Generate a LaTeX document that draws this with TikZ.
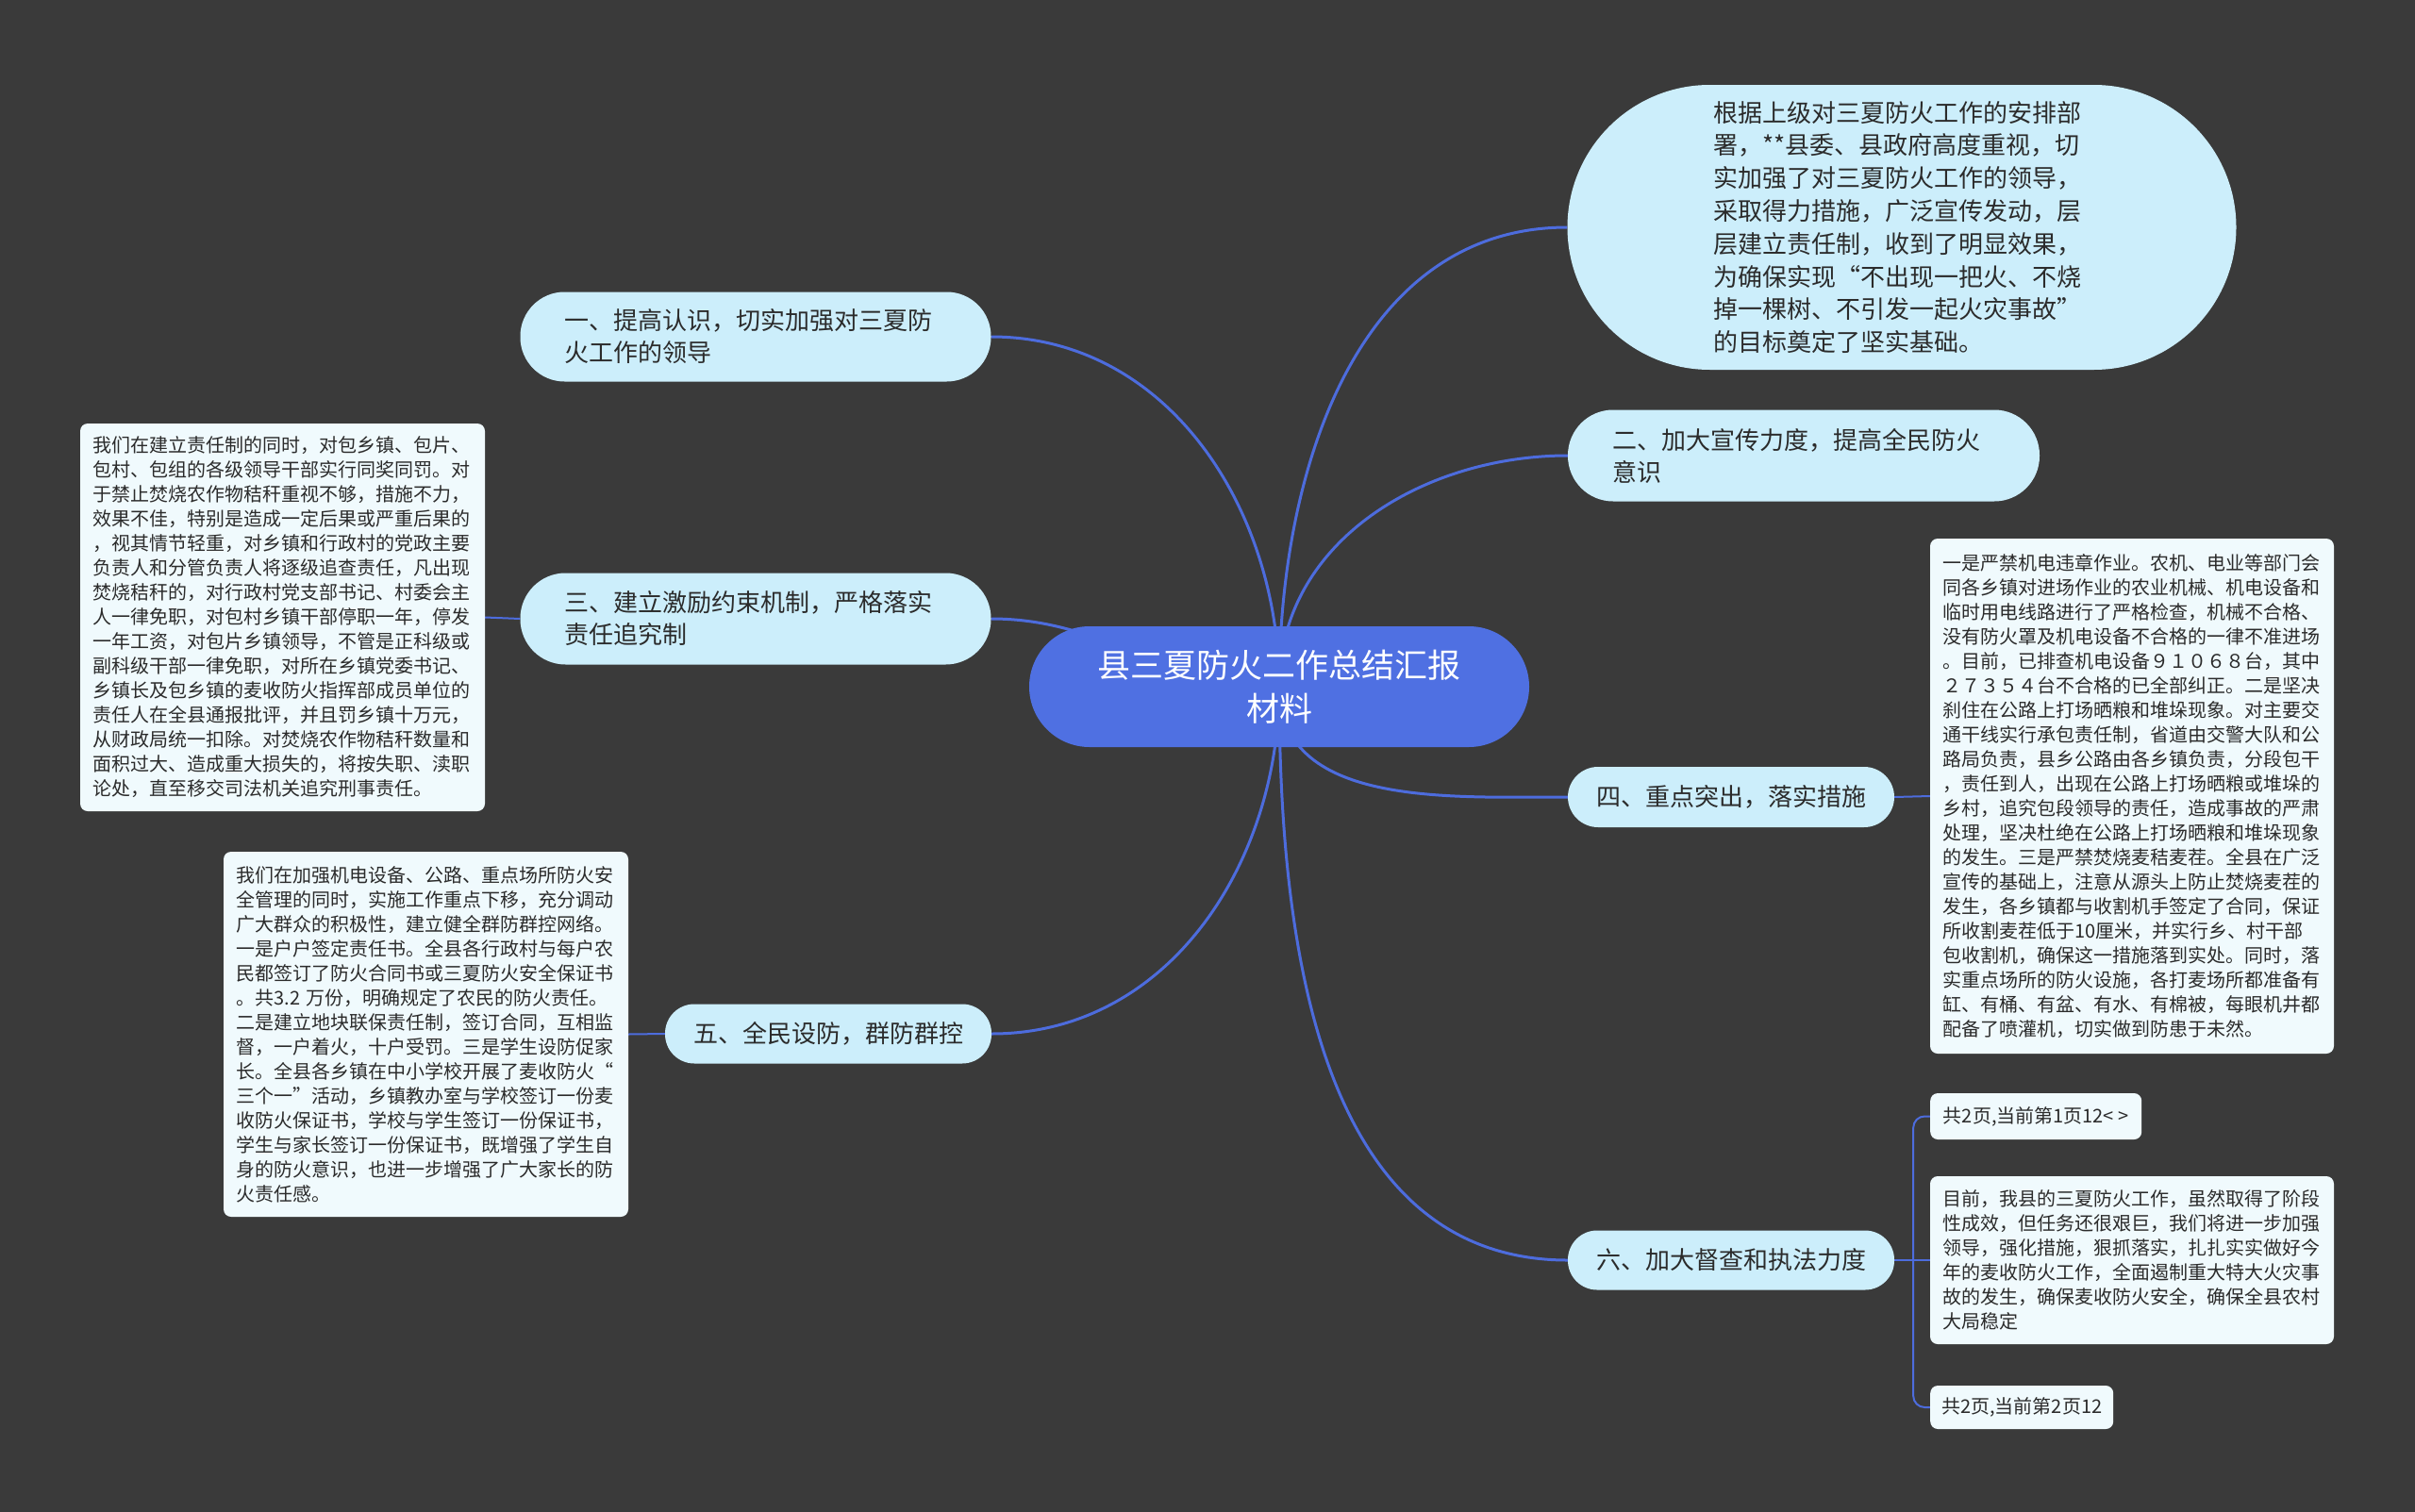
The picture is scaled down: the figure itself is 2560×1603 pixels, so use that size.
\documentclass[tikz,border=0pt]{standalone}
\usepackage{fontspec}
\setmainfont{Noto Sans CJK SC}
\definecolor{bgc}{HTML}{3A3A3A}
\definecolor{edgec}{HTML}{4D6CDD}
\definecolor{rootc}{HTML}{4F70E2}
\definecolor{lvlc}{HTML}{CCEEFB}
\definecolor{leafc}{HTML}{F0FAFD}
\definecolor{txtc}{HTML}{2B2B2B}
\pgfdeclarelayer{bgl}
\pgfdeclarelayer{edl}
\pgfsetlayers{bgl,edl,main}
\begin{document}
\begin{tikzpicture}[x=1pt,y=1pt,
  root/.style={fill=rootc, text=white, rounded corners=64pt, minimum width=530pt, minimum height=128pt, inner sep=0pt, align=center, font=\fontsize{35pt}{46pt}\selectfont},
  topic/.style={fill=lvlc, text=txtc, inner sep=0pt, align=left, font=\fontsize{26pt}{34pt}\selectfont},
  leafbox/.style={fill=leafc, text=txtc, rounded corners=8pt, inner sep=0pt, align=left, font=\fontsize{20pt}{26pt}\selectfont},
  branch/.style={draw=edgec, line width=3pt},
  twig/.style={draw=edgec, line width=2pt}]
\useasboundingbox (0,0) rectangle (2560,-1603);
\begin{pgfonlayer}{bgl}
\fill[bgc] (0,0) rectangle (2560,-1603);
\end{pgfonlayer}

\node[root] (c) at (1356,-728) {县三夏防火二作总结汇报\\材料};

\node[topic, rounded corners=151pt, minimum width=709pt, minimum height=302pt, text width=400pt, font=\fontsize{26pt}{34.8pt}\selectfont] (t0) at (2016,-241) {根据上级对三夏防火工作的安排部\\署，**县委、县政府高度重视，切\\实加强了对三夏防火工作的领导，\\采取得力措施，广泛宣传发动，层\\层建立责任制，收到了明显效果，\\为确保实现“不出现一把火、不烧\\掉一棵树、不引发一起火灾事故”\\的目标奠定了坚实基础。};

\node[topic, rounded corners=47pt, minimum width=499pt, minimum height=95pt, text width=405pt] (n1) at (801,-357) {一、提高认识，切实加强对三夏防\\火工作的领导};
\node[topic, rounded corners=48pt, minimum width=500pt, minimum height=97pt, text width=405pt] (n2) at (1912,-483) {二、加大宣传力度，提高全民防火\\意识};
\node[topic, rounded corners=48pt, minimum width=499pt, minimum height=97pt, text width=405pt] (n3) at (801,-656) {三、建立激励约束机制，严格落实\\责任追究制};
\node[topic, rounded corners=32pt, minimum width=346pt, minimum height=64pt] (n4) at (1835,-845) {四、重点突出，落实措施};
\node[topic, rounded corners=31pt, minimum width=346pt, minimum height=63pt] (n5) at (878,-1096) {五、全民设防，群防群控};
\node[topic, rounded corners=31pt, minimum width=346pt, minimum height=63pt] (n6) at (1835,-1336) {六、加大督查和执法力度};

\node[leafbox, minimum width=429pt, minimum height=411pt, text width=402pt] (l3) at (299.5,-654.5) {我们在建立责任制的同时，对包乡镇、包片、\\包村、包组的各级领导干部实行同奖同罚。对\\于禁止焚烧农作物秸秆重视不够，措施不力，\\效果不佳，特别是造成一定后果或严重后果的\\，视其情节轻重，对乡镇和行政村的党政主要\\负责人和分管负责人将逐级追查责任，凡出现\\焚烧秸秆的，对行政村党支部书记、村委会主\\人一律免职，对包村乡镇干部停职一年，停发\\一年工资，对包片乡镇领导，不管是正科级或\\副科级干部一律免职，对所在乡镇党委书记、\\乡镇长及包乡镇的麦收防火指挥部成员单位的\\责任人在全县通报批评，并且罚乡镇十万元，\\从财政局统一扣除。对焚烧农作物秸秆数量和\\面积过大、造成重大损失的，将按失职、渎职\\论处，直至移交司法机关追究刑事责任。};

\node[leafbox, minimum width=429pt, minimum height=387pt, text width=402pt] (l5) at (451.5,-1096.5) {我们在加强机电设备、公路、重点场所防火安\\全管理的同时，实施工作重点下移，充分调动\\广大群众的积极性，建立健全群防群控网络。\\一是户户签定责任书。全县各行政村与每户农\\民都签订了防火合同书或三夏防火安全保证书\\。共3.2 万份，明确规定了农民的防火责任。\\二是建立地块联保责任制，签订合同，互相监\\督，一户着火，十户受罚。三是学生设防促家\\长。全县各乡镇在中小学校开展了麦收防火“\\三个一”活动，乡镇教办室与学校签订一份麦\\收防火保证书，学校与学生签订一份保证书，\\学生与家长签订一份保证书，既增强了学生自\\身的防火意识，也进一步增强了广大家长的防\\火责任感。};

\node[leafbox, minimum width=428pt, minimum height=546pt, text width=402pt] (l4) at (2260,-844) {一是严禁机电违章作业。农机、电业等部门会\\同各乡镇对进场作业的农业机械、机电设备和\\临时用电线路进行了严格检查，机械不合格、\\没有防火罩及机电设备不合格的一律不准进场\\。目前，已排查机电设备９１０６８台，其中\\２７３５４台不合格的已全部纠正。二是坚决\\刹住在公路上打场晒粮和堆垛现象。对主要交\\通干线实行承包责任制，省道由交警大队和公\\路局负责，县乡公路由各乡镇负责，分段包干\\，责任到人，出现在公路上打场晒粮或堆垛的\\乡村，追究包段领导的责任，造成事故的严肃\\处理，坚决杜绝在公路上打场晒粮和堆垛现象\\的发生。三是严禁焚烧麦秸麦茬。全县在广泛\\宣传的基础上，注意从源头上防止焚烧麦茬的\\发生，各乡镇都与收割机手签定了合同，保证\\所收割麦茬低于10厘米，并实行乡、村干部\\包收割机，确保这一措施落到实处。同时，落\\实重点场所的防火设施，各打麦场所都准备有\\缸、有桶、有盆、有水、有棉被，每眼机井都\\配备了喷灌机，切实做到防患于未然。};

\node[leafbox, anchor=west, minimum width=224pt, minimum height=49pt] (l6a) at (2046,-1183.5) {共2页,当前第1页12< >};
\node[leafbox, minimum width=428pt, minimum height=178pt, text width=402pt] (l6b) at (2260,-1336) {目前，我县的三夏防火工作，虽然取得了阶段\\性成效，但任务还很艰巨，我们将进一步加强\\领导，强化措施，狠抓落实，扎扎实实做好今\\年的麦收防火工作，全面遏制重大特大火灾事\\故的发生，确保麦收防火安全，确保全县农村\\大局稳定};
\node[leafbox, anchor=west, minimum width=194pt, minimum height=46pt] (l6c) at (2046,-1492) {共2页,当前第2页12};

\begin{pgfonlayer}{edl}
\draw[branch] (c.center) to[out=90,in=180] (t0.west);
\draw[branch] (c.center) to[out=90,in=0] (n1.east);
\draw[branch] (c.center) to[out=90,in=180] (n2.west);
\draw[branch] (c.center) to[out=180,in=0] (n3.east);
\draw[branch] (c.center) to[out=-90,in=180] (n4.west);
\draw[branch] (c.center) to[out=-90,in=0] (n5.east);
\draw[branch] (c.center) to[out=-90,in=180] (n6.west);
\draw[twig] (n3.west) -- (l3.east);
\draw[twig] (n5.west) -- (l5.east);
\draw[twig] (n4.east) -- (l4.west);
\draw[twig] (n6.east) -- ++(20,0) coordinate (j6);
\draw[twig, rounded corners=12pt] (j6) |- (l6a.west);
\draw[twig] (j6) -- (l6b.west);
\draw[twig, rounded corners=12pt] (j6) |- (l6c.west);
\end{pgfonlayer}
\end{tikzpicture}
\end{document}
